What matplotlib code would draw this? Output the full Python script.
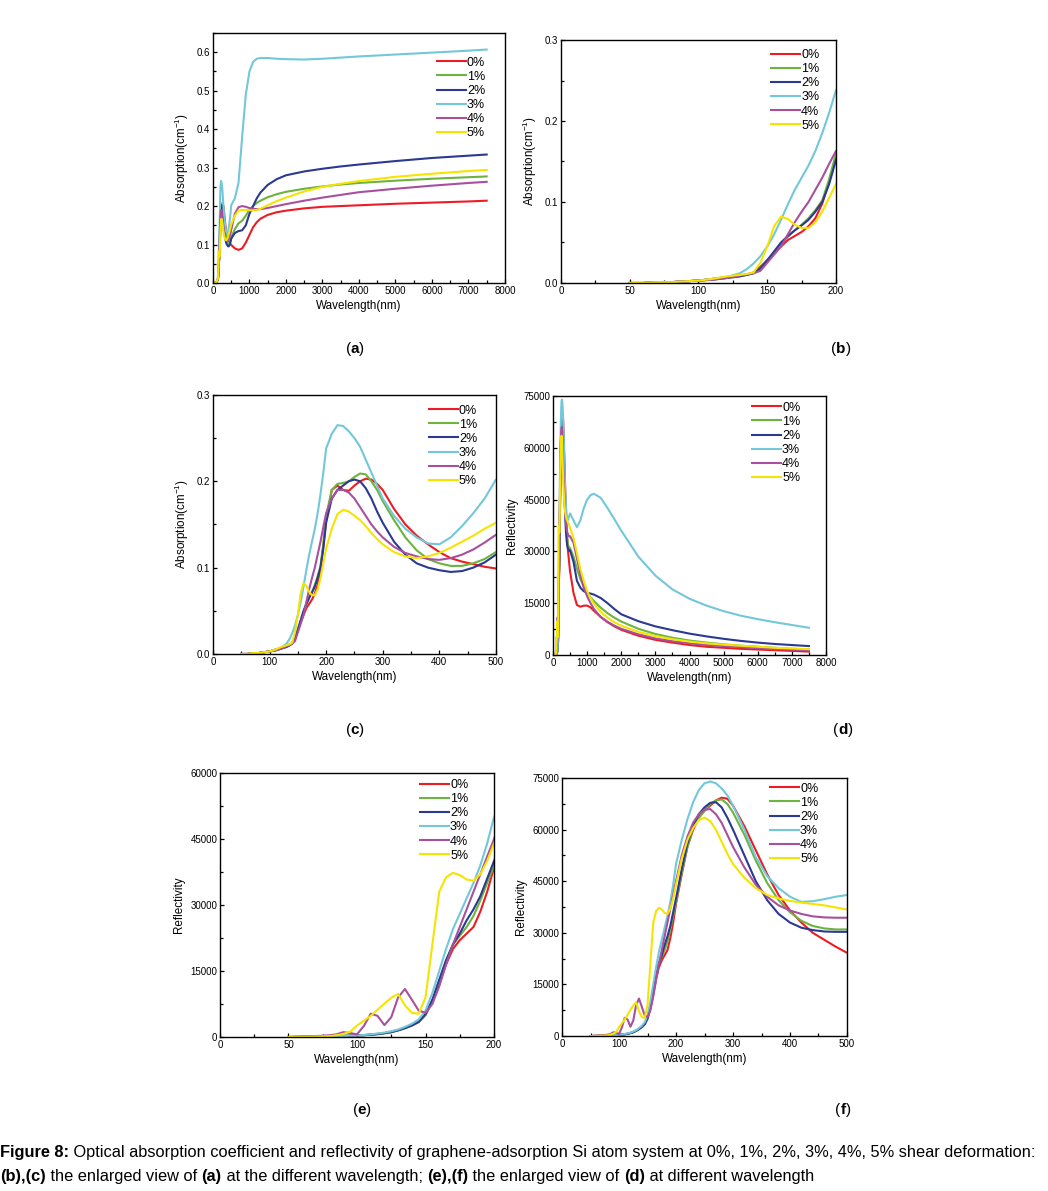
import numpy as np
import matplotlib.pyplot as plt
from matplotlib.ticker import MultipleLocator, FormatStrFormatter

#fonts
plt.rcParams['font.family'] = ['Liberation Sans', 'DejaVu Sans']
plt.rcParams['mathtext.default'] = 'regular'

labels = ['0%', '1%', '2%', '3%', '4%', '5%']
colors = ['#ed1c24', '#6cb33f', '#2b3990', '#72c8d8', '#a8509e', '#f5e400']

#Absorption data (wavelength in nm)
abs_wl = [50, 60, 70, 80, 90, 100, 110, 120, 130,
          135, 140, 145, 150, 155, 160, 165, 170, 175, 180, 185, 190, 195, 200,
          210, 220, 230, 240, 250, 260, 270, 280, 290, 300,
          320, 340, 360, 380, 400, 420, 440, 460, 480, 500,
          600, 700, 800, 900, 1000, 1100, 1200, 1300,
          1500, 1750, 2000, 2500, 3000, 3500, 4000,
          5000, 6000, 7000, 7500]
abs_0 = [0, 0, 0.001, 0.001, 0.002, 0.003, 0.005, 0.007, 0.009,
         0.01, 0.013, 0.02, 0.028, 0.037, 0.045, 0.053, 0.058, 0.063, 0.07, 0.08, 0.098, 0.125, 0.155,
         0.19, 0.195, 0.19, 0.189, 0.195, 0.2, 0.203, 0.202, 0.197, 0.19,
         0.168, 0.15, 0.137, 0.127, 0.118, 0.111, 0.107, 0.104, 0.101, 0.099,
         0.09, 0.086, 0.09, 0.105, 0.125, 0.145, 0.158, 0.167,
         0.177, 0.184, 0.188, 0.194, 0.198, 0.2, 0.202,
         0.206, 0.209, 0.212, 0.214]
abs_1 = [0, 0, 0.001, 0.001, 0.002, 0.003, 0.005, 0.007, 0.009,
         0.01, 0.012, 0.018, 0.028, 0.038, 0.048, 0.057, 0.065, 0.072, 0.08, 0.09, 0.102, 0.128, 0.16,
         0.19, 0.197, 0.198, 0.2, 0.205, 0.209, 0.208, 0.2, 0.19, 0.177,
         0.155, 0.135, 0.12, 0.11, 0.105, 0.102, 0.102, 0.105, 0.11, 0.118,
         0.14, 0.155, 0.162, 0.175, 0.19, 0.2, 0.208, 0.214,
         0.223, 0.231, 0.237, 0.245, 0.251, 0.256, 0.26,
         0.266, 0.271, 0.275, 0.277]
abs_2 = [0, 0, 0.001, 0.001, 0.002, 0.003, 0.004, 0.006, 0.008,
         0.01, 0.012, 0.018, 0.028, 0.039, 0.05, 0.058, 0.065, 0.071, 0.078, 0.088, 0.1, 0.122, 0.152,
         0.18, 0.19, 0.195, 0.2, 0.202, 0.2, 0.192, 0.18, 0.165, 0.152,
         0.13, 0.115, 0.105, 0.1, 0.097, 0.095, 0.096, 0.1, 0.106, 0.115,
         0.13, 0.135, 0.137, 0.15, 0.18, 0.2, 0.22, 0.235,
         0.255, 0.27, 0.28, 0.29, 0.297, 0.303, 0.308,
         0.317, 0.325, 0.331, 0.334]
abs_3 = [0, 0, 0.001, 0.001, 0.002, 0.003, 0.005, 0.007, 0.012,
         0.017, 0.024, 0.033, 0.045, 0.06, 0.078, 0.097, 0.115, 0.13, 0.145, 0.163, 0.185, 0.21, 0.238,
         0.255, 0.265, 0.264, 0.258, 0.25, 0.24, 0.225, 0.21, 0.195, 0.18,
         0.16, 0.145, 0.135, 0.128, 0.127, 0.135, 0.148, 0.163, 0.18, 0.202,
         0.22, 0.26, 0.38, 0.49, 0.55, 0.575, 0.583, 0.585,
         0.585, 0.583, 0.582, 0.581, 0.583, 0.586, 0.589,
         0.594, 0.599, 0.604, 0.607]
abs_4 = [0, 0, 0.001, 0.001, 0.002, 0.003, 0.004, 0.006, 0.009,
         0.011, 0.012, 0.015, 0.025, 0.035, 0.045, 0.06, 0.075, 0.088, 0.1, 0.115, 0.13, 0.147, 0.163,
         0.18, 0.19, 0.19, 0.187, 0.18, 0.17, 0.16, 0.15, 0.142, 0.135,
         0.124, 0.117, 0.113, 0.11, 0.109, 0.111, 0.115, 0.121, 0.129, 0.138,
         0.18, 0.197, 0.2, 0.198, 0.195, 0.193, 0.192, 0.192,
         0.195, 0.2, 0.205, 0.214, 0.222, 0.229, 0.236,
         0.245, 0.253, 0.26, 0.263]
abs_5 = [0, 0, 0.001, 0.001, 0.002, 0.003, 0.005, 0.008, 0.01,
         0.011, 0.013, 0.025, 0.045, 0.07, 0.082, 0.079, 0.072, 0.068, 0.068, 0.075, 0.088, 0.105, 0.122,
         0.145, 0.162, 0.167, 0.165, 0.16, 0.155, 0.148, 0.14, 0.133, 0.127,
         0.118, 0.113, 0.111, 0.113, 0.117, 0.123, 0.13, 0.137, 0.145, 0.152,
         0.175, 0.188, 0.19, 0.19, 0.189, 0.189, 0.19, 0.193,
         0.202, 0.213, 0.222, 0.238, 0.25, 0.258, 0.265,
         0.276, 0.284, 0.291, 0.294]

#Reflectivity data
ref_wl = [50, 60, 70, 80,
          85, 90, 95, 100, 105, 110, 115, 120, 125, 130, 135, 140, 145, 150,
          155, 160, 165, 170, 175, 180, 185, 190, 195, 200,
          210, 220, 230, 240, 250, 260, 270, 280, 290, 300,
          320, 340, 360, 380, 400, 420, 440, 460, 480, 500,
          600, 700, 800, 900, 1000, 1100, 1200,
          1400, 1600, 1800, 2000,
          2500, 3000, 3500, 4000, 4500, 5000, 5500, 6000, 6500, 7000, 7500]
ref_0 = [0, 50, 100, 150,
         200, 250, 300, 350, 450, 550, 700, 900, 1200, 1600, 2100, 2700, 3500, 5000,
         8000, 12000, 16500, 20000, 22000, 23500, 25000, 28500, 33000, 38500,
         47000, 55000, 60000, 63500, 65500, 67000, 68500, 69300, 69000, 67000,
         61000, 54000, 47000, 41000, 36500, 33000, 30000, 28000, 26000, 24200,
         18000, 14500, 14000, 14300, 14300, 13800, 12800,
         11000, 9500, 8300, 7300,
         5600, 4400, 3600, 2900, 2400, 2100, 1800, 1600, 1400, 1200, 1000]
ref_1 = [0, 50, 100, 150,
         200, 250, 300, 350, 400, 500, 650, 850, 1100, 1500, 2000, 2600, 3400, 5000,
         8200, 12500, 17000, 21000, 23000, 25000, 27500, 31000, 35000, 39000,
         47500, 55000, 60500, 63500, 65500, 67500, 68500, 68800, 67500, 65000,
         58500, 51000, 44500, 39500, 36000, 33500, 32000, 31300, 31000, 31000,
         28500, 25000, 22000, 19800, 18000, 16700, 15600,
         13700, 12100, 10800, 9700,
         7600, 6100, 5000, 4200, 3600, 3100, 2700, 2400, 2100, 1800, 1600]
ref_2 = [0, 50, 100, 150,
         200, 250, 300, 350, 400, 500, 650, 850, 1100, 1500, 2000, 2600, 3400, 5200,
         8500, 13000, 17500, 21000, 23500, 26500, 29000, 32000, 36000, 40000,
         48500, 56000, 61000, 64500, 66500, 67800, 68000, 66500, 63500, 60000,
         52500, 45000, 39500, 35500, 33000, 31500, 30800, 30400, 30300, 30300,
         27000, 21500, 19500, 18500, 18000, 17800, 17500,
         16500, 15000, 13300, 11800,
         9800, 8300, 7200, 6200, 5400, 4700, 4100, 3600, 3200, 2900, 2600]
ref_3 = [0, 50, 100, 150,
         200, 250, 300, 350, 450, 600, 800, 1000, 1300, 1700, 2300, 3000, 4000, 6000,
         10000, 15000, 20000, 24500, 28000, 31500, 35000, 39000, 44000, 50000,
         57000, 63000, 68000, 71500, 73500, 74000, 73500, 72000, 70000, 67000,
         60000, 52000, 46500, 43000, 40500, 39000, 39200, 39800, 40500, 41000,
         39000, 37000, 39000, 42500, 45000, 46300, 46700,
         45500, 42500, 39300, 36000,
         28500, 23000, 19000, 16300, 14300, 12700, 11400, 10400, 9500, 8700, 7900]
ref_4 = [0, 100, 200, 400,
         600, 1100, 900, 600, 2500, 5300, 4800, 2700, 4500, 9000, 10900, 8500, 6000, 5500,
         7500, 11500, 16500, 21000, 25000, 29000, 33000, 37000, 41000, 45000,
         52500, 58000, 62000, 64500, 65800, 66000, 64500, 62000, 58500, 55000,
         49000, 44000, 40500, 38000, 36500, 35500, 34800, 34500, 34400, 34400,
         32500, 28000, 23500, 19500, 17000, 15000, 13300,
         11000, 9600, 8500, 7600,
         6000, 4800, 4000, 3400, 2900, 2600, 2300, 2000, 1800, 1600, 1400]
ref_5 = [0, 50, 100, 200,
         400, 700, 1200, 2600, 3700, 4800, 6200, 7600, 8900, 9800, 7200, 5500, 5300, 9000,
         21000, 33000, 36300, 37300, 36800, 35800, 35500, 37000, 40000, 44000,
         51500, 57000, 60500, 62800, 63500, 62500, 60000, 56500, 53000, 50000,
         46000, 43000, 41000, 40000, 39300, 38800, 38400, 38000, 37400, 36800,
         34000, 29500, 25000, 21500, 18500, 16500, 14800,
         12500, 10800, 9500, 8500,
         6700, 5500, 4600, 3900, 3400, 3000, 2700, 2400, 2100, 1900, 1700]

abs_all = [abs_0, abs_1, abs_2, abs_3, abs_4, abs_5]
ref_all = [ref_0, ref_1, ref_2, ref_3, ref_4, ref_5]

fig = plt.figure(figsize=(10.48, 11.91), dpi=100)

def panel(rect, x, ys, xlim, ylim, xmaj, ymaj, ylab, leg_xy, yfmt):
    ax = fig.add_axes(rect)
    for y, c, l in zip(ys, colors, labels):
        ax.plot(x, y, color=c, lw=1.5, label=l)
    ax.set_xlim(xlim)
    ax.set_ylim(ylim)
    ax.xaxis.set_major_locator(MultipleLocator(xmaj))
    ax.xaxis.set_minor_locator(MultipleLocator(xmaj / 2))
    ax.yaxis.set_major_locator(MultipleLocator(ymaj))
    ax.yaxis.set_minor_locator(MultipleLocator(ymaj / 2))
    ax.yaxis.set_major_formatter(FormatStrFormatter(yfmt))
    ax.tick_params(which='major', direction='in', length=3, width=0.9, labelsize=7, pad=2)
    ax.tick_params(which='minor', direction='in', length=2, width=0.9)
    for s in ax.spines.values():
        s.set_linewidth(1.0)
    ax.set_xlabel('Wavelength(nm)', fontsize=8.4, labelpad=3)
    ax.set_ylabel(ylab, fontsize=8.4, labelpad=4)
    ax.legend(loc='upper left', bbox_to_anchor=leg_xy, frameon=False, fontsize=9,
              handlelength=2.3, handletextpad=0.1, labelspacing=0.17, borderpad=0,
              borderaxespad=0)
    return ax

ab = 'Absorption(cm$^{-1}$)'
panel([0.2032, 0.7624, 0.2786, 0.2099], abs_wl, abs_all, (0, 8000), (0, 0.65), 1000, 0.1, ab, (0.767, 0.905), '%.1f')
panel([0.5353, 0.7624, 0.2624, 0.2040], abs_wl, abs_all, (0, 200), (0, 0.3), 50, 0.1, ab, (0.764, 0.963), '%.1f')
panel([0.2032, 0.4509, 0.2700, 0.2175], abs_wl, abs_all, (0, 500), (0, 0.3), 100, 0.1, ab, (0.763, 0.963), '%.1f')
panel([0.5277, 0.4500, 0.2605, 0.2175], ref_wl, ref_all, (0, 8000), (0, 75000), 1000, 15000, 'Reflectivity', (0.729, 0.978), '%d')
panel([0.2099, 0.1293, 0.2615, 0.2217], ref_wl, ref_all, (0, 200), (0, 60000), 50, 15000, 'Reflectivity', (0.73, 0.977), '%d')
panel([0.5363, 0.1301, 0.2719, 0.2166], ref_wl, ref_all, (0, 500), (0, 75000), 100, 15000, 'Reflectivity', (0.73, 0.982), '%d')

#rich text helper: pieces drawn one after the other
def rich(x, y, pieces, size, ha='left'):
    r = fig.canvas.get_renderer()
    W = fig.bbox.width
    widths = []
    for s, b in pieces:
        t = fig.text(0, 0, s, fontsize=size, fontweight='bold' if b else 'normal')
        widths.append(t.get_window_extent(r).width / W)
        t.remove()
    if ha == 'center':
        x = x - sum(widths) / 2
    for (s, b), w in zip(pieces, widths):
        fig.text(x, y, s, fontsize=size, va='center',
                 fontweight='bold' if b else 'normal')
        x += w

#panel labels
for lab, px, py in [('a', 355, 349), ('b', 841, 349), ('c', 355, 730),
                    ('d', 843, 730), ('e', 362, 1110), ('f', 843, 1110)]:
    rich(px / 1048, 1 - py / 1191, [('(', 0), (lab, 1), (')', 0)], 11, ha='center')

#caption
rich(0.0, 1 - 1152 / 1191, [('Figure 8:', 1), (' Optical absorption coefficient and reflectivity of graphene-adsorption Si atom system at 0%, 1%, 2%, 3%, 4%, 5% shear deformation:', 0)], 11.8)
rich(0.0, 1 - 1176 / 1191, [('(b),(c)', 1), (' the enlarged view of ', 0), ('(a)', 1), (' at the different wavelength; ', 0),
                            ('(e),(f)', 1), (' the enlarged view of ', 0), ('(d)', 1), (' at different wavelength', 0)], 11.8)

plt.savefig('out.png', dpi=100)
